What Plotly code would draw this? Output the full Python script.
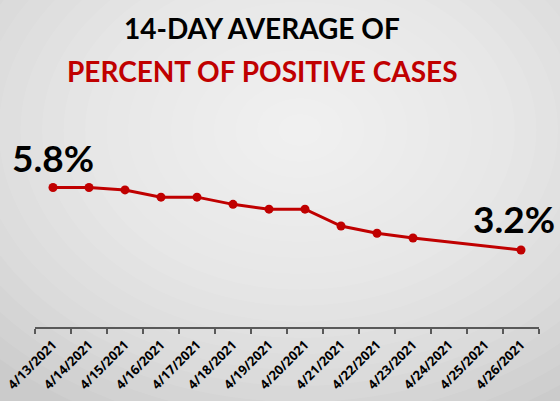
import plotly.graph_objs as go

# Данные
dates = ['4/13/2021', '4/14/2021', '4/15/2021', '4/16/2021', '4/17/2021',
         '4/18/2021', '4/19/2021', '4/20/2021', '4/21/2021', '4/22/2021',
         '4/23/2021', '4/24/2021', '4/25/2021', '4/26/2021']
percent = [5.8, 5.8, 5.7, 5.4, 5.4, 5.1, 4.9, 4.9, 4.2, 3.9, 3.7, None, None, 3.2]

first_label = '5.8%'
last_label = '3.2%'

RED = '#C00000'
FONT = 'Lato'

W, H = 560, 401
L, R, T, B = 35, 21, 100, 74
pw, ph = W - L - R, H - T - B


def to_paper(px, py):
    return (px - L) / pw, (H - B - py) / ph


# мягкий радиальный фон из наложенных эллипсов
shapes = []
cx, cy = 300, 130
steps = 20
for i in range(steps):
    k = 1 - i / steps
    rx, ry = 430 * k, 320 * k
    x0, y1 = to_paper(cx - rx, cy - ry)
    x1, y0 = to_paper(cx + rx, cy + ry)
    shapes.append(dict(type='circle', xref='paper', yref='paper',
                       x0=x0, x1=x1, y0=y0, y1=y1,
                       fillcolor='white', opacity=0.08,
                       line=dict(width=0), layer='below'))

fig = go.Figure(go.Scatter(
    x=dates,
    y=percent,
    mode='lines+markers',
    connectgaps=True,
    line=dict(color=RED, width=3),
    marker=dict(color=RED, size=9),
    hoverinfo='x+y'
))

tx1, ty1 = to_paper(262, 28)
tx2, ty2 = to_paper(262, 71)

annotations = [
    dict(text='14-DAY AVERAGE OF', x=tx1, y=ty1, xref='paper', yref='paper',
         showarrow=False, xanchor='center', yanchor='middle',
         font=dict(family=FONT, size=28, color='black', weight='bold')),
    dict(text='PERCENT OF POSITIVE CASES', x=tx2, y=ty2, xref='paper', yref='paper',
         showarrow=False, xanchor='center', yanchor='middle',
         font=dict(family=FONT, size=28, color=RED, weight='bold')),
    dict(text=first_label, x=dates[0], y=percent[0], xref='x', yref='y',
         showarrow=False, yshift=30,
         font=dict(family=FONT, size=37, color='black', weight='bold')),
    dict(text=last_label, x=dates[-1], y=percent[-1], xref='x', yref='y',
         showarrow=False, yshift=32, xshift=-7,
         font=dict(family=FONT, size=37, color='black', weight='bold')),
]

fig.update_layout(
    width=W,
    height=H,
    margin=dict(l=L, r=R, t=T, b=B),
    paper_bgcolor='#cbcbcb',
    plot_bgcolor='rgba(0,0,0,0)',
    showlegend=False,
    shapes=shapes,
    annotations=annotations,
    xaxis=dict(
        type='category',
        categoryorder='array',
        categoryarray=dates,
        range=[-0.5, len(dates) - 0.5],
        automargin=False,
        showgrid=False,
        zeroline=False,
        showline=True,
        linecolor='#595959',
        linewidth=2,
        ticks='outside',
        tickson='boundaries',
        ticklen=5,
        tickcolor='#595959',
        tickwidth=1.5,
        tickangle=-45,
        ticklabelstandoff=3,
        tickfont=dict(family='Noto Sans', size=13, color='black', weight='bold'),
        fixedrange=True
    ),
    yaxis=dict(
        visible=False,
        automargin=False,
        range=[0, 9.44],
        fixedrange=True
    ),
)

# убираем отступ страницы, чтобы график начинался с левого верхнего угла
fig.write_html('out.html', config={'displayModeBar': False},
               post_script="document.body.style.margin='0';")
